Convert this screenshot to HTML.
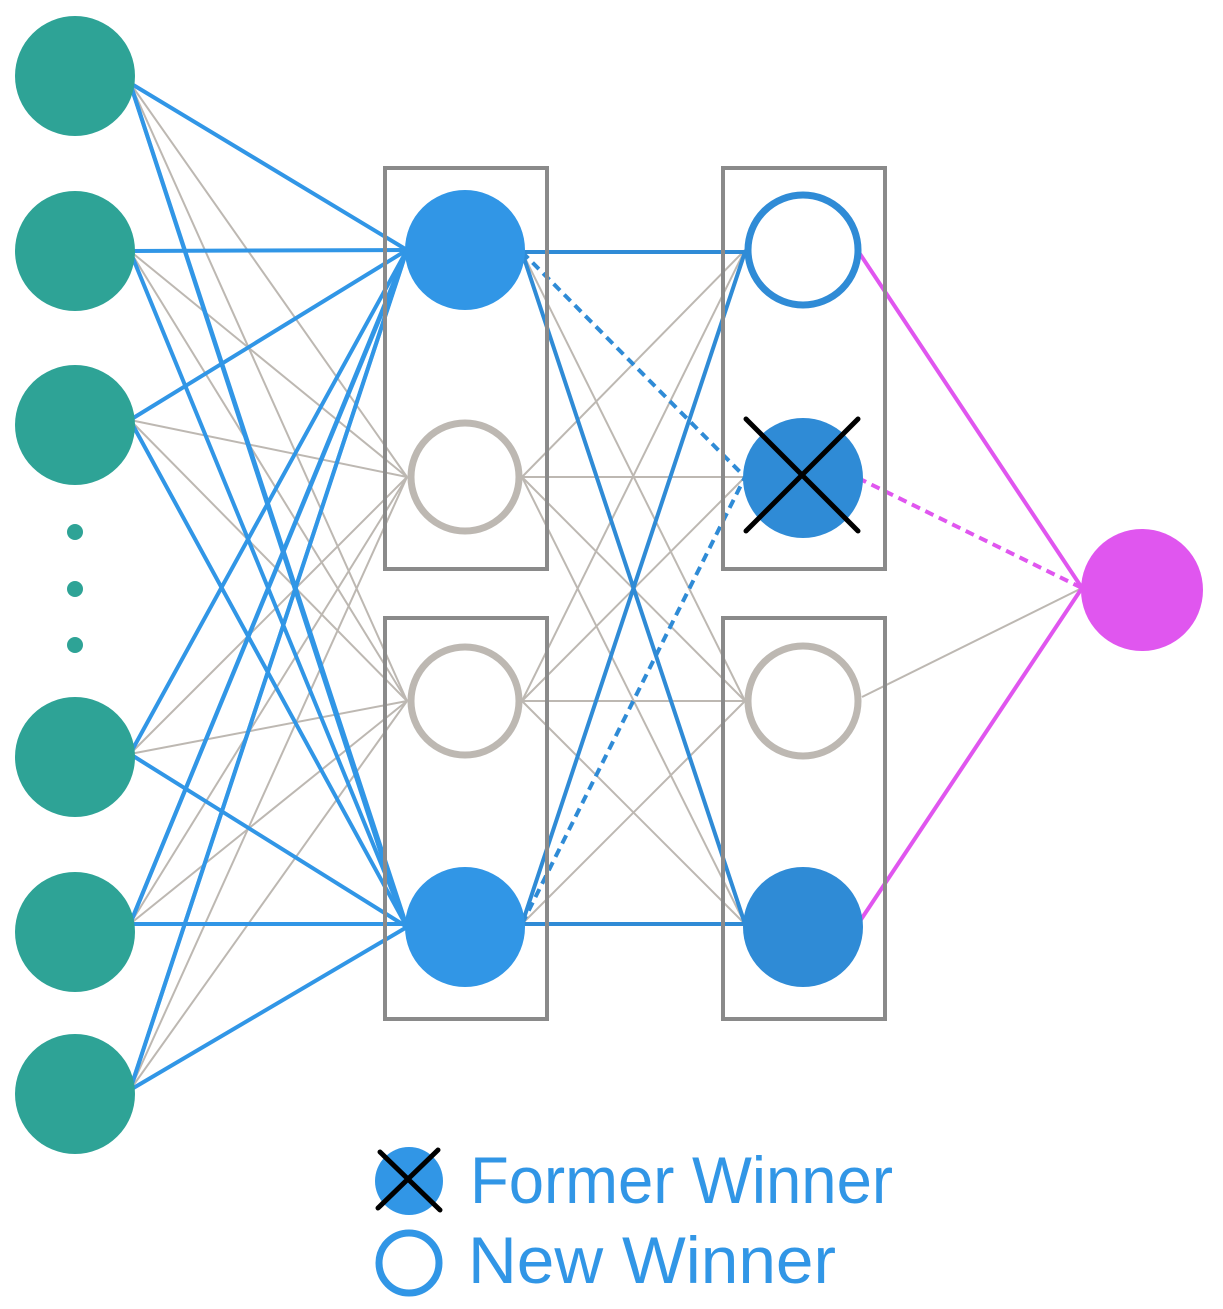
<!DOCTYPE html>
<html><head><meta charset="utf-8"><style>
html,body{margin:0;padding:0;background:#fff;width:1223px;height:1309px;overflow:hidden}
svg{display:block}
</style></head><body>
<svg width="1223" height="1309" viewBox="0 0 1223 1309" xmlns="http://www.w3.org/2000/svg">
<g stroke="#bdb8b2" stroke-width="2" fill="none">
  <!-- input to gray L1 nodes (477,701) -->
  <line x1="130" y1="83" x2="407" y2="477"/><line x1="130" y1="83" x2="407" y2="701"/>
  <line x1="130" y1="251" x2="407" y2="477"/><line x1="130" y1="251" x2="407" y2="701"/>
  <line x1="130" y1="420" x2="407" y2="477"/><line x1="130" y1="420" x2="407" y2="701"/>
  <line x1="130" y1="754" x2="407" y2="477"/><line x1="130" y1="754" x2="407" y2="701"/>
  <line x1="130" y1="924" x2="407" y2="477"/><line x1="130" y1="924" x2="407" y2="701"/>
  <line x1="130" y1="1090" x2="407" y2="477"/><line x1="130" y1="1090" x2="407" y2="701"/>
  <!-- L1 to L2 gray -->
  <line x1="522" y1="477" x2="745" y2="250"/><line x1="522" y1="477" x2="745" y2="477"/><line x1="522" y1="477" x2="745" y2="701"/><line x1="522" y1="477" x2="745" y2="924"/>
  <line x1="522" y1="701" x2="745" y2="250"/><line x1="522" y1="701" x2="745" y2="477"/><line x1="522" y1="701" x2="745" y2="701"/><line x1="522" y1="701" x2="745" y2="924"/>
  <line x1="522" y1="252" x2="745" y2="701"/><line x1="522" y1="924" x2="745" y2="701"/>
  <line x1="862" y1="697" x2="1082" y2="588"/>
</g>
<g stroke="#3196e6" stroke-width="4" fill="none">
  <line x1="130" y1="83" x2="407" y2="250"/><line x1="130" y1="83" x2="407" y2="927"/><line x1="130" y1="83" x2="402" y2="918"/>
  <line x1="130" y1="251" x2="407" y2="250"/><line x1="130" y1="251" x2="407" y2="927"/>
  <line x1="130" y1="420" x2="407" y2="250"/><line x1="130" y1="420" x2="407" y2="927"/>
  <line x1="130" y1="754" x2="407" y2="250"/><line x1="130" y1="754" x2="407" y2="927"/>
  <line x1="130" y1="924" x2="407" y2="250"/><line x1="130" y1="924" x2="403" y2="262"/><line x1="130" y1="924" x2="407" y2="924"/>
  <line x1="130" y1="1090" x2="407" y2="250"/><line x1="130" y1="1090" x2="402" y2="265"/><line x1="130" y1="1090" x2="407" y2="927"/>
</g>
<g stroke="#2f8bd6" stroke-width="4" fill="none">
  <line x1="522" y1="252" x2="745" y2="252"/>
  <line x1="522" y1="252" x2="745" y2="924"/>
  <line x1="522" y1="924" x2="745" y2="252"/>
  <line x1="522" y1="924" x2="745" y2="924"/>
  <line x1="522" y1="252" x2="745" y2="477" stroke-dasharray="9,6"/>
  <line x1="522" y1="924" x2="745" y2="477" stroke-dasharray="9,6"/>
</g>
<g stroke="#e056ef" stroke-width="4" fill="none">
  <line x1="858" y1="251" x2="1082" y2="588"/>
  <line x1="858" y1="924" x2="1082" y2="588"/>
  <line x1="858" y1="478" x2="1082" y2="588" stroke-dasharray="9,6"/>
</g>
<!-- boxes -->
<g stroke="#8a8a8a" stroke-width="4" fill="none">
  <rect x="385" y="168" width="162" height="401"/>
  <rect x="385" y="618" width="162" height="401"/>
  <rect x="723" y="168" width="162" height="401"/>
  <rect x="723" y="618" width="162" height="401"/>
</g>
<!-- input nodes -->
<g fill="#2ea396">
  <circle cx="75" cy="76" r="60"/><circle cx="75" cy="251" r="60"/><circle cx="75" cy="425" r="60"/>
  <circle cx="75" cy="757" r="60"/><circle cx="75" cy="932" r="60"/><circle cx="75" cy="1094" r="60"/>
  <circle cx="75" cy="532" r="8"/><circle cx="75" cy="589" r="8"/><circle cx="75" cy="645" r="8"/>
</g>
<!-- L1 -->
<circle cx="465" cy="250" r="60" fill="#3196e6"/>
<circle cx="465" cy="477" r="54" fill="#fff" stroke="#bdb8b2" stroke-width="7"/>
<circle cx="465" cy="701" r="54" fill="#fff" stroke="#bdb8b2" stroke-width="7"/>
<circle cx="465" cy="927" r="60" fill="#3196e6"/>
<!-- L2 -->
<circle cx="803" cy="250" r="55" fill="#fff" stroke="#2f8bd6" stroke-width="7"/>
<circle cx="803" cy="478" r="60" fill="#2f8bd6"/>
<g stroke="#000" stroke-width="5" stroke-linecap="round">
  <line x1="746" y1="419" x2="858" y2="531"/><line x1="858" y1="419" x2="746" y2="531"/>
</g>
<circle cx="803" cy="701" r="55" fill="#fff" stroke="#bdb8b2" stroke-width="7"/>
<circle cx="803" cy="927" r="60" fill="#2f8bd6"/>
<!-- output -->
<circle cx="1142" cy="590" r="61" fill="#e056ef"/>
<!-- legend -->
<circle cx="409" cy="1181" r="34" fill="#3196e6"/>
<g stroke="#000" stroke-width="5" stroke-linecap="round">
  <line x1="380" y1="1152" x2="440" y2="1210"/><line x1="438" y1="1150" x2="378" y2="1208"/>
</g>
<circle cx="409" cy="1263" r="30" fill="#fff" stroke="#3196e6" stroke-width="7"/>
<g fill="#3196e6" font-family="Liberation Sans, sans-serif" font-weight="normal">
  <text x="470" y="1203" font-size="66" textLength="423" lengthAdjust="spacingAndGlyphs">Former Winner</text>
  <text x="468" y="1283" font-size="66" textLength="368" lengthAdjust="spacingAndGlyphs">New Winner</text>
</g>
</svg>
</body></html>
